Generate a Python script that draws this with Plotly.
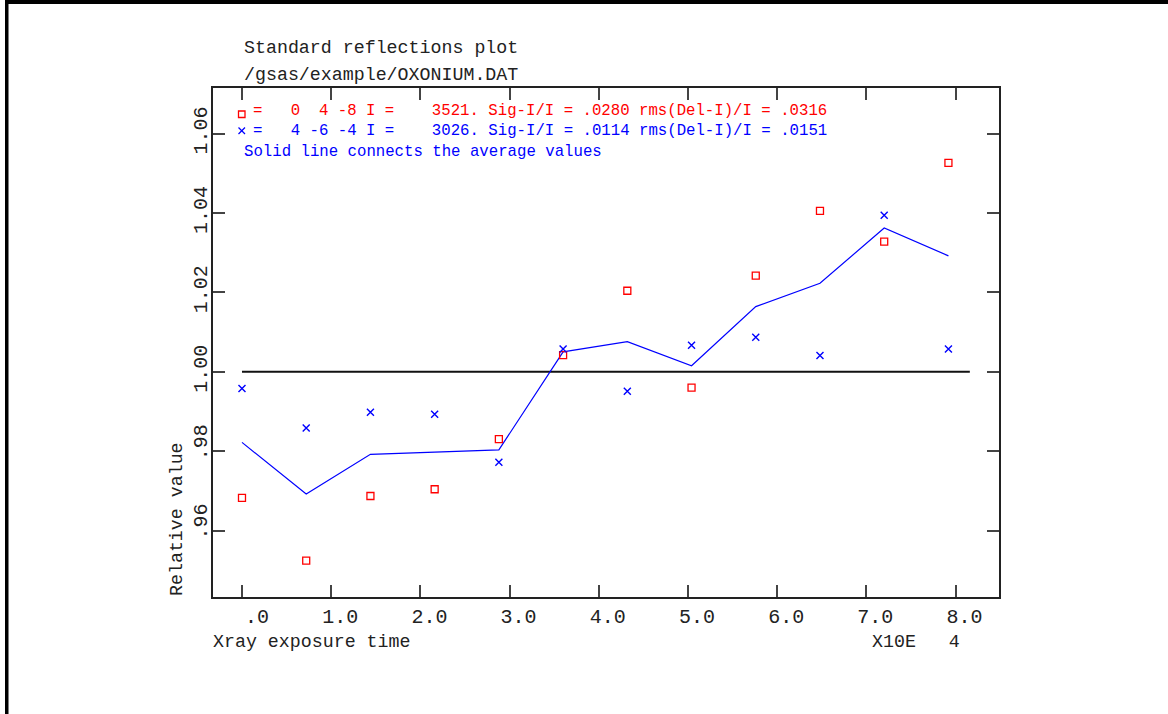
import plotly.graph_objects as go

# ---------------- data ----------------
x_time = [0.00, 0.72, 1.44, 2.16, 2.88, 3.60, 4.32, 5.04, 5.76, 6.48, 7.20, 7.92]
refl_0_4_m8 = [0.9682, 0.9524, 0.9687, 0.9704, 0.9830, 1.0042,
               1.0204, 0.9960, 1.0242, 1.0405, 1.0328, 1.0526]
refl_4_m6_m4 = [0.9958, 0.9858, 0.9898, 0.9893, 0.9772, 1.0057,
                0.9951, 1.0067, 1.0087, 1.0041, 1.0394, 1.0057]
average_line = [0.9822, 0.9692, 0.9792, 0.9797, 0.9803, 1.0050,
                1.0076, 1.0015, 1.0164, 1.0223, 1.0362, 1.0292]
unity_x = [0.0, 8.16]
unity_y = [1.0, 1.0]

x_tick_vals = [0, 1, 2, 3, 4, 5, 6, 7, 8]
x_tick_text = ["\u00a0.0", "1.0", "2.0", "3.0", "4.0", "5.0", "6.0", "7.0", "8.0"]
y_tick_vals = [0.96, 0.98, 1.00, 1.02, 1.04, 1.06]
y_tick_text = ["\u00a0.96", "\u00a0.98", "1.00", "1.02", "1.04", "1.06"]

title_lines = ["Standard reflections plot", "/gsas/example/OXONIUM.DAT"]
legend_red = "=   0  4 -8 I =    3521. Sig-I/I = .0280 rms(Del-I)/I = .0316"
legend_blue = "=   4 -6 -4 I =    3026. Sig-I/I = .0114 rms(Del-I)/I = .0151"
legend_note = "Solid line connects the average values"
x_title = "Xray exposure time"
x_scale = "X10E   4"
y_title = "Relative value"

# ---------------- layout geometry ----------------
W, H = 1168, 714
L, R, T, B = 213, 999, 88, 597
PW, PH = R - L, B - T
FONT = "Liberation Mono"
RED = "#ff0000"
BLUE = "#0000ff"


def px(x):
    return (x - L) / PW


def py(y):
    return (B - y) / PH


def nb(s):
    return s.replace(" ", "\u00a0")


fig = go.Figure()
fig.add_trace(go.Scatter(x=unity_x, y=unity_y, mode="lines",
                         line=dict(color="#111111", width=2), hoverinfo="skip"))
fig.add_trace(go.Scatter(x=x_time, y=average_line, mode="lines",
                         line=dict(color=BLUE, width=1.2)))
fig.add_trace(go.Scatter(x=x_time, y=refl_0_4_m8, mode="markers",
                         marker=dict(symbol="square-open", size=7, color=RED,
                                     line=dict(width=1.3, color=RED))))
fig.add_trace(go.Scatter(x=x_time, y=refl_4_m6_m4, mode="markers",
                         marker=dict(symbol="x-thin-open", size=7, color=BLUE,
                                     line=dict(width=1.4, color=BLUE))))

axis_common = dict(showgrid=False, zeroline=False, showline=True,
                   linecolor="#222222", linewidth=2, mirror="allticks",
                   ticks="inside", ticklen=12, tickwidth=1.5, tickcolor="#444444",
                   tickfont=dict(family=FONT, size=20, color="#222222"))

fig.update_layout(
    width=W, height=H,
    margin=dict(l=L, r=W - R, t=T, b=H - B, pad=0),
    paper_bgcolor="white", plot_bgcolor="white",
    showlegend=False,
    xaxis=dict(range=[-0.325, 8.487], tickvals=x_tick_vals, ticktext=x_tick_text,
               ticklabelshift=9, **axis_common),
    yaxis=dict(range=[0.94325, 1.07148], tickvals=y_tick_vals, ticktext=y_tick_text,
               tickangle=-90, ticklabelstandoff=-4, **axis_common),
)

ann = []


def text(x, y, s, size, color="#222222", xanchor="left", angle=0):
    ann.append(dict(x=px(x), y=py(y), xref="paper", yref="paper", text=nb(s),
                    showarrow=False, xanchor=xanchor, yanchor="middle",
                    textangle=angle,
                    font=dict(family=FONT, size=size, color=color)))


text(242, 48, title_lines[0], 18.3)
text(242, 75, title_lines[1], 18.3)
text(251, 111, legend_red, 15.7, RED)
text(251, 131, legend_blue, 15.7, BLUE)
text(242, 152, legend_note, 15.7, BLUE)
text(211, 642, x_title, 18.3)
text(870, 642, x_scale, 18.3)
ann.append(dict(x=px(177), y=py(519), xref="paper", yref="paper", text=nb(y_title),
                showarrow=False, xanchor="center", yanchor="middle", textangle=-90,
                font=dict(family=FONT, size=18.3, color="#222222")))
fig.update_layout(annotations=ann)

shapes = [
    # page frame (top and left heavy rules)
    dict(type="rect", xref="paper", yref="paper", x0=px(5), x1=px(W), y0=py(0), y1=py(4),
         fillcolor="black", line=dict(width=0)),
    dict(type="rect", xref="paper", yref="paper", x0=px(5), x1=px(8.5), y0=py(0), y1=py(H),
         fillcolor="black", line=dict(width=0)),
    # legend symbols
    dict(type="rect", xref="paper", yref="paper", x0=px(238.5), x1=px(245), y0=py(111), y1=py(117.5),
         line=dict(color=RED, width=1.3)),
    dict(type="line", xref="paper", yref="paper", x0=px(238.5), x1=px(245), y0=py(127.5), y1=py(134),
         line=dict(color=BLUE, width=1.3)),
    dict(type="line", xref="paper", yref="paper", x0=px(238.5), x1=px(245), y0=py(134), y1=py(127.5),
         line=dict(color=BLUE, width=1.3)),
]
fig.update_layout(shapes=shapes)

fig.write_html("out.html", config={"displayModeBar": False},
               post_script="document.body.style.margin='0px';document.body.style.padding='0px';")
